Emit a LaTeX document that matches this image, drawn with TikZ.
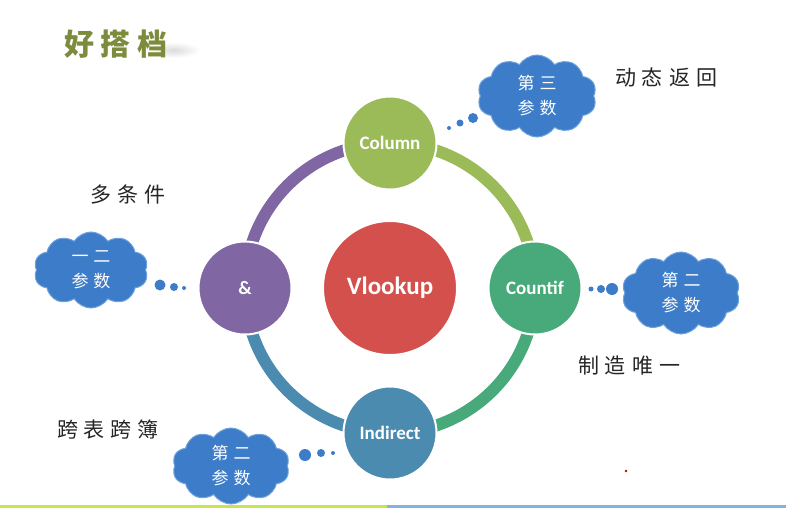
\documentclass[tikz,border=0pt]{standalone}
\usepackage{fontspec}
\setmainfont{Carlito}
\newfontfamily\cjk{Noto Sans CJK SC}
\usetikzlibrary{shapes.symbols,backgrounds,calc}
\definecolor{cOlive}{HTML}{9BBB59}
\definecolor{cGreen}{HTML}{48A97A}
\definecolor{cTeal}{HTML}{4C8BB0}
\definecolor{cPurple}{HTML}{8066A3}
\definecolor{cRed}{HTML}{D3504C}
\definecolor{cloudBlue}{HTML}{3C7CC8}
\definecolor{cloudEdge}{HTML}{6FA2DC}
\definecolor{titleGreen}{HTML}{7D8C3C}
\definecolor{lineGreen}{HTML}{C5E651}
\definecolor{lineBlue}{HTML}{86B2E0}
\newcommand\gp{\hspace{6pt}}
\newcommand\cg{\hspace{5pt}}
\tikzset{
  hub/.style={circle, fill=#1, draw=white, line width=2pt, minimum size=93pt,
    inner sep=0pt, text=white, font=\bfseries\fontsize{19}{19}\selectfont},
  ringarc/.style={line width=12pt, draw=#1},
  bubble/.style={cloud, cloud puffs=10, cloud puff arc=115, aspect=1.5,
    fill=cloudBlue, draw=cloudEdge, line width=1pt, minimum width=118pt,
    minimum height=78pt, inner sep=0pt, text=white, align=center,
    font=\cjk\fontsize{17}{25}\selectfont},
  puffdot/.style={circle, fill=cloudBlue, inner sep=0pt, minimum size=#1},
  note/.style={font=\cjk\fontsize{21}{21}\selectfont, text=black!85, inner sep=0pt}
}
\begin{document}
\begin{tikzpicture}[x=1pt,y=-1pt]
\useasboundingbox (0,0) rectangle (786,508);
\coordinate (ctr) at (390,288);
% hubs
\node[hub=cRed, minimum size=134pt, font=\bfseries\fontsize{25}{25}\selectfont] (vl) at (ctr) {Vlookup};
\node[hub=cOlive] (col) at ($(ctr)+(270:145)$) {Column};
\node[hub=cGreen] (cnt) at ($(ctr)+(0:145)$) {Countif};
\node[hub=cTeal] (ind) at ($(ctr)+(90:145)$) {Indirect};
\node[hub=cPurple] (amp) at ($(ctr)+(180:145)$) {\&};
\begin{scope}[on background layer]
  \fill[white] (0,0) rectangle (786,508);
  \draw[ringarc=cOlive] (col.center) arc[start angle=270, end angle=360, radius=145];
  \draw[ringarc=cGreen] (cnt.center) arc[start angle=0, end angle=90, radius=145];
  \draw[ringarc=cTeal] (ind.center) arc[start angle=90, end angle=180, radius=145];
  \draw[ringarc=cPurple] (amp.center) arc[start angle=180, end angle=270, radius=145];
  % title shadow
  \shade[inner color=black!14, outer color=white] (174,50) ellipse [x radius=26, y radius=8];
  % bottom line
  \fill[lineGreen] (0,505) rectangle (387,508);
  \fill[lineBlue] (387,505) rectangle (786,508);
\end{scope}
% title
\node[font=\cjk\bfseries\fontsize{30}{30}\selectfont, text=titleGreen, inner sep=0pt] (title) at (116,44) {好\hspace{7pt}搭\hspace{7pt}档};
% clouds
\node[bubble, minimum width=119pt, minimum height=82pt] (ctr3) at (537,96) {第\cg 三\\参\cg 数};
\node[bubble, minimum width=114pt, minimum height=76pt] (cl12) at (91,270) {一\cg 二\\参\cg 数};
\node[bubble, minimum width=118pt, minimum height=82pt] (cr2) at (681,293) {第\cg 二\\参\cg 数};
\node[bubble, minimum width=117pt, minimum height=76pt] (cb2) at (231,466) {第\cg 二\\参\cg 数};
% thought dots
\node[puffdot=10pt] (t1) at (473,118) {};
\node[puffdot=7pt] (t2) at (460,123) {};
\node[puffdot=4pt] (t3) at (449,128) {};
\node[puffdot=11pt] (l1) at (160,285) {};
\node[puffdot=8pt] (l2) at (174,287) {};
\node[puffdot=4pt] (l3) at (184,288) {};
\node[puffdot=12pt] (r1) at (612,289) {};
\node[puffdot=8pt] (r2) at (601,289) {};
\node[puffdot=5pt] (r3) at (591,289) {};
\node[puffdot=12pt] (b1) at (305,455) {};
\node[puffdot=8pt] (b2) at (321,453) {};
\node[puffdot=4pt] (b3) at (333,453) {};
% labels
\node[note] (n1) at (666,77) {动\gp 态\gp 返\gp 回};
\node[note] (n2) at (128,195) {多\gp 条\gp 件};
\node[note] (n3) at (629,366) {制\gp 造\gp 唯\gp 一};
\node[note] (n4) at (108,430) {跨\gp 表\gp 跨\gp 簿};
% small red dot
\node[circle, fill=red!75!black, inner sep=0pt, minimum size=2.6pt] (rd) at (626,471) {};
\end{tikzpicture}
\end{document}
